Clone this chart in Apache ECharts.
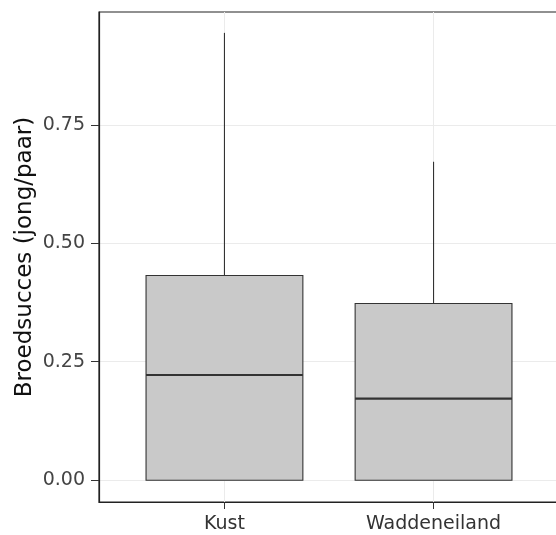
<!DOCTYPE html>
<html>
<head>
<meta charset="utf-8">
<script src="https://cdn.jsdelivr.net/npm/echarts@6/dist/echarts.min.js"></script>
<style>html,body{margin:0;padding:0;background:#fff;}#main{width:556px;height:535px;}</style>
</head>
<body>
<div id="main"></div>
<script>
const categories = ['Kust', 'Waddeneiland'];
const minVals = [0, 0];
const q1Vals = [0, 0];
const medianVals = [0.222, 0.172];
const q3Vals = [0.432, 0.373];
const maxVals = [0.944, 0.672];
const yTicks = [0, 0.25, 0.5, 0.75];
const yTitle = 'Broedsucces (jong/paar)';

const boxData = categories.map((c, i) => [i, minVals[i], q1Vals[i], medianVals[i], q3Vals[i], maxVals[i]]);
const catIdx = categories.map((c, i) => i);
const FONT = '"DejaVu Sans", Verdana, sans-serif';

const chart = echarts.init(document.getElementById('main'), null, {renderer: 'canvas'});
chart.setOption({
  animation: false,
  backgroundColor: '#ffffff',
  grid: {left: 99, width: 460, top: 12, bottom: 33, outerBoundsMode: 'none', containLabel: false, show: true, borderColor: '#222', borderWidth: 1.2, backgroundColor: 'transparent'},
  xAxis: {
    type: 'value', min: -0.6, max: 1.6,
    axisLine: {show: true, onZero: false, lineStyle: {color: '#222', width: 1.2}},
    axisTick: {show: true, customValues: catIdx, length: 7, lineStyle: {color: '#333'}},
    axisLabel: {customValues: catIdx, formatter: v => categories[Math.round(v)] || '', color: '#333', fontSize: 19, fontFamily: FONT, margin: 13},
    splitLine: {show: true, lineStyle: {color: '#ebebeb', width: 1}}
  },
  yAxis: {
    type: 'value', min: -0.046, max: 0.988,
    name: yTitle, nameLocation: 'middle', nameGap: 62, nameRotate: 90, nameMoveOverlap: false,
    nameTextStyle: {fontSize: 23, color: '#111', fontFamily: FONT},
    axisLine: {show: true, onZero: false, lineStyle: {color: '#222', width: 1.2}},
    axisTick: {show: true, customValues: yTicks, length: 8, lineStyle: {color: '#333'}},
    axisLabel: {customValues: yTicks, formatter: v => v.toFixed(2), color: '#444', fontSize: 19, fontFamily: FONT, margin: 14},
    splitLine: {show: true, lineStyle: {color: '#ebebeb', width: 1}}
  },
  series: [{
    type: 'custom',
    data: boxData,
    encode: {x: 0, y: [1, 2, 3, 4, 5]},
    renderItem: function (params, api) {
      const x = api.value(0);
      const half = api.size([0.75, 0])[0] / 2;
      const pMin = api.coord([x, api.value(1)]);
      const pQ1 = api.coord([x, api.value(2)]);
      const pMed = api.coord([x, api.value(3)]);
      const pQ3 = api.coord([x, api.value(4)]);
      const pMax = api.coord([x, api.value(5)]);
      const line = {stroke: '#333', lineWidth: 1.1};
      return {
        type: 'group',
        children: [
          {type: 'line', shape: {x1: pQ3[0], y1: pQ3[1], x2: pMax[0], y2: pMax[1]}, style: line},
          {type: 'line', shape: {x1: pQ1[0], y1: pQ1[1], x2: pMin[0], y2: pMin[1]}, style: line},
          {type: 'rect', shape: {x: pQ3[0] - half, y: pQ3[1], width: 2 * half, height: pQ1[1] - pQ3[1]}, style: {fill: '#c9c9c9', stroke: '#333', lineWidth: 1.1}},
          {type: 'line', shape: {x1: pMed[0] - half, y1: pMed[1], x2: pMed[0] + half, y2: pMed[1]}, style: {stroke: '#333', lineWidth: 2.2}}
        ]
      };
    }
  }]
});
</script>
</body>
</html>
